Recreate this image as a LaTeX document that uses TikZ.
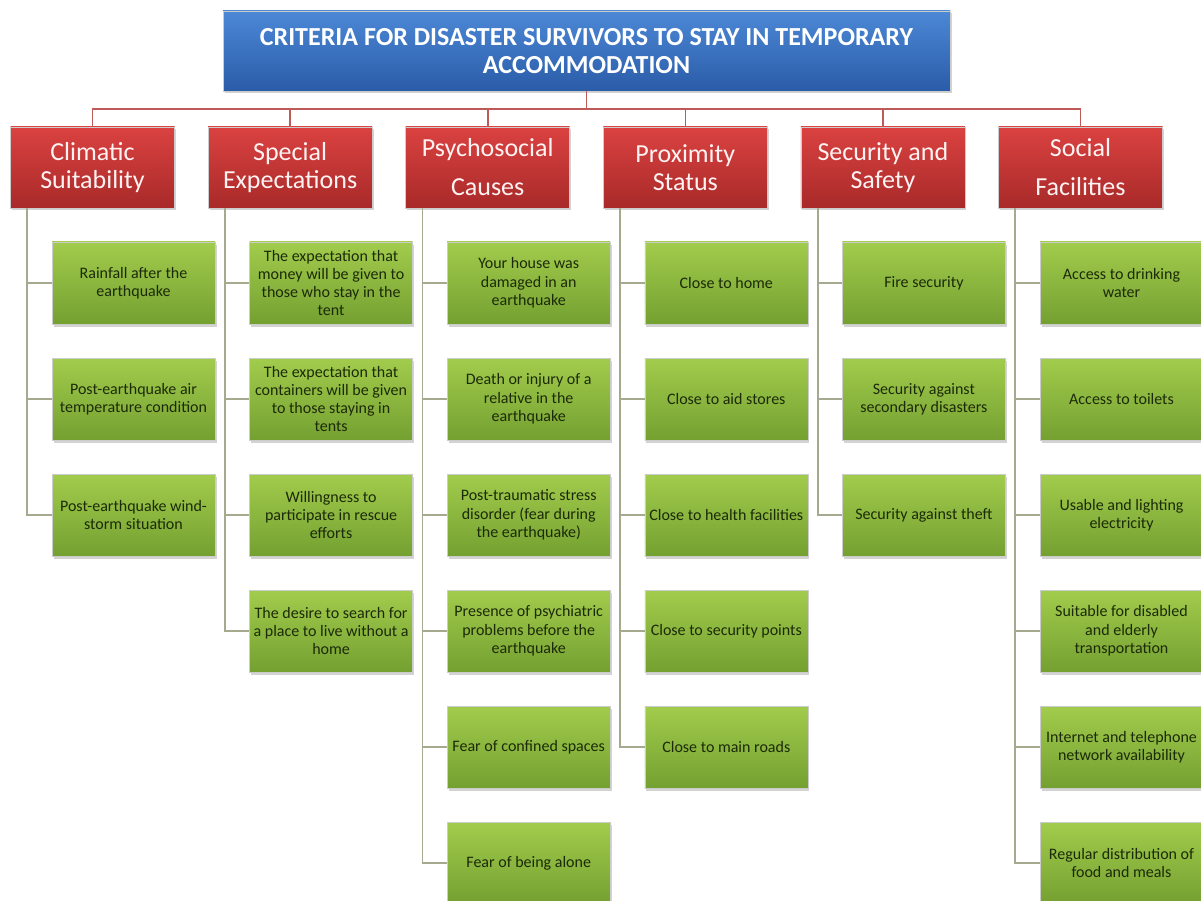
\documentclass[tikz,border=0pt]{standalone}
\usepackage{fontspec}
\setmainfont{Carlito}
\usepackage{tikz}
\usepackage{xcolor}
\usetikzlibrary{
    shapes,
    shadows
}
\definecolor{titletop}{HTML}{4C88D6}
\definecolor{titlebot}{HTML}{2A5CA8}
\definecolor{headtop}{HTML}{DA4241}
\definecolor{headbot}{HTML}{A82A29}
\definecolor{itemtop}{HTML}{A2CC4C}
\definecolor{itembot}{HTML}{74A031}
\definecolor{itemtext}{HTML}{1C2A08}
\definecolor{topline}{HTML}{BE5A58}
\definecolor{subline}{HTML}{A3AA8E}

\begin{document}
\begin{tikzpicture}[x=1pt, y=-1pt,
    titlebox/.style={rectangle, draw=black!20, line width=0.5pt, top color=titletop, bottom color=titlebot,
        minimum width=727pt, minimum height=80pt, align=center, text=white,
        font=\bfseries\fontsize{26}{27.7}\selectfont,
        drop shadow={shadow xshift=1.5pt, shadow yshift=-2.5pt, opacity=0.35}},
    headbox/.style={rectangle, draw=black!20, line width=0.5pt, top color=headtop, bottom color=headbot,
        minimum width=164pt, minimum height=81pt, align=center, text=white!95!red,
        font=\fontsize{26}{28}\selectfont,
        drop shadow={shadow xshift=1.5pt, shadow yshift=-2.5pt, opacity=0.35}},
    itembox/.style={rectangle, draw=black!20, line width=0.5pt, top color=itemtop, bottom color=itembot,
        minimum width=163pt, minimum height=82pt, inner xsep=0pt, inner ysep=2pt, align=center, text=itemtext,
        font=\fontsize{16}{18.3}\selectfont,
        drop shadow={shadow xshift=1.5pt, shadow yshift=-3pt, opacity=0.35}},
    redline/.style={draw=topline, line width=1.6pt},
    greyline/.style={draw=subline, line width=1.8pt}
]
\useasboundingbox (0,0) rectangle (1201,901);

% top
\node[titlebox] (title) at (586.5, 51) {CRITERIA FOR DISASTER SURVIVORS TO STAY IN TEMPORARY\\ACCOMMODATION};

% headers
\node[headbox] (clim) at (92.5, 167.5) {Climatic\\Suitability};
\node[headbox] (spec) at (290.1, 167.5) {Special\\Expectations};
\node[headbox] (psych) at (487.7, 167.5) {Psychosocial\\[11pt]Causes};
\node[headbox] (prox) at (685.3, 167.5) {Proximity\\Status};
\node[headbox] (secur) at (882.9, 167.5) {Security and\\Safety};
\node[headbox] (social) at (1080.5, 167.5) {Social\\[11pt]Facilities};

% climatic
\node[itembox] (clim1) at (133.5, 283) {Rainfall after the\\earthquake};
\node[itembox] (clim2) at (133.5, 399) {Post-earthquake air\\temperature condition};
\node[itembox] (clim3) at (133.5, 515) {Post-earthquake wind-\\storm situation};

% special
\node[itembox] (spec1) at (331.1, 283) {The expectation that\\money will be given to\\those who stay in the\\tent};
\node[itembox] (spec2) at (331.1, 399) {The expectation that\\containers will be given\\to those staying in\\tents};
\node[itembox] (spec3) at (331.1, 515) {Willingness to\\participate in rescue\\efforts};
\node[itembox] (spec4) at (331.1, 631) {The desire to search for\\a place to live without a\\home};

% psychosocial
\node[itembox] (psych1) at (528.7, 283) {Your house was\\damaged in an\\earthquake};
\node[itembox] (psych2) at (528.7, 399) {Death or injury of a\\relative in the\\earthquake};
\node[itembox] (psych3) at (528.7, 515) {Post-traumatic stress\\disorder (fear during\\the earthquake)};
\node[itembox] (psych4) at (528.7, 631) {Presence of psychiatric\\problems before the\\earthquake};
\node[itembox] (psych5) at (528.7, 747) {Fear of confined spaces};
\node[itembox] (psych6) at (528.7, 863) {Fear of being alone};

% proximity
\node[itembox] (prox1) at (726.3, 283) {Close to home};
\node[itembox] (prox2) at (726.3, 399) {Close to aid stores};
\node[itembox] (prox3) at (726.3, 515) {Close to health facilities};
\node[itembox] (prox4) at (726.3, 631) {Close to security points};
\node[itembox] (prox5) at (726.3, 747) {Close to main roads};

% security
\node[itembox] (secur1) at (923.9, 283) {Fire security};
\node[itembox] (secur2) at (923.9, 399) {Security against\\secondary disasters};
\node[itembox] (secur3) at (923.9, 515) {Security against theft};

% social
\node[itembox] (social1) at (1121.5, 283) {Access to drinking\\water};
\node[itembox] (social2) at (1121.5, 399) {Access to toilets};
\node[itembox] (social3) at (1121.5, 515) {Usable and lighting\\electricity};
\node[itembox] (social4) at (1121.5, 631) {Suitable for disabled\\and elderly\\transportation};
\node[itembox] (social5) at (1121.5, 747) {Internet and telephone\\network availability};
\node[itembox] (social6) at (1121.5, 863) {Regular distribution of\\food and meals};

% title to headers
\draw[redline] (title.south) -- ++(0,18) -| (clim.north);
\draw[redline] (title.south) -- ++(0,18) -| (spec.north);
\draw[redline] (title.south) -- ++(0,18) -| (psych.north);
\draw[redline] (title.south) -- ++(0,18) -| (prox.north);
\draw[redline] (title.south) -- ++(0,18) -| (secur.north);
\draw[redline] (title.south) -- ++(0,18) -| (social.north);

% headers to items
\draw[greyline] ([xshift=17pt]clim.south west) |- (clim1.west);
\draw[greyline] ([xshift=17pt]clim.south west) |- (clim2.west);
\draw[greyline] ([xshift=17pt]clim.south west) |- (clim3.west);

\draw[greyline] ([xshift=17pt]spec.south west) |- (spec1.west);
\draw[greyline] ([xshift=17pt]spec.south west) |- (spec2.west);
\draw[greyline] ([xshift=17pt]spec.south west) |- (spec3.west);
\draw[greyline] ([xshift=17pt]spec.south west) |- (spec4.west);

\draw[greyline] ([xshift=17pt]psych.south west) |- (psych1.west);
\draw[greyline] ([xshift=17pt]psych.south west) |- (psych2.west);
\draw[greyline] ([xshift=17pt]psych.south west) |- (psych3.west);
\draw[greyline] ([xshift=17pt]psych.south west) |- (psych4.west);
\draw[greyline] ([xshift=17pt]psych.south west) |- (psych5.west);
\draw[greyline] ([xshift=17pt]psych.south west) |- (psych6.west);

\draw[greyline] ([xshift=17pt]prox.south west) |- (prox1.west);
\draw[greyline] ([xshift=17pt]prox.south west) |- (prox2.west);
\draw[greyline] ([xshift=17pt]prox.south west) |- (prox3.west);
\draw[greyline] ([xshift=17pt]prox.south west) |- (prox4.west);
\draw[greyline] ([xshift=17pt]prox.south west) |- (prox5.west);

\draw[greyline] ([xshift=17pt]secur.south west) |- (secur1.west);
\draw[greyline] ([xshift=17pt]secur.south west) |- (secur2.west);
\draw[greyline] ([xshift=17pt]secur.south west) |- (secur3.west);

\draw[greyline] ([xshift=17pt]social.south west) |- (social1.west);
\draw[greyline] ([xshift=17pt]social.south west) |- (social2.west);
\draw[greyline] ([xshift=17pt]social.south west) |- (social3.west);
\draw[greyline] ([xshift=17pt]social.south west) |- (social4.west);
\draw[greyline] ([xshift=17pt]social.south west) |- (social5.west);
\draw[greyline] ([xshift=17pt]social.south west) |- (social6.west);
\end{tikzpicture}
\end{document}
